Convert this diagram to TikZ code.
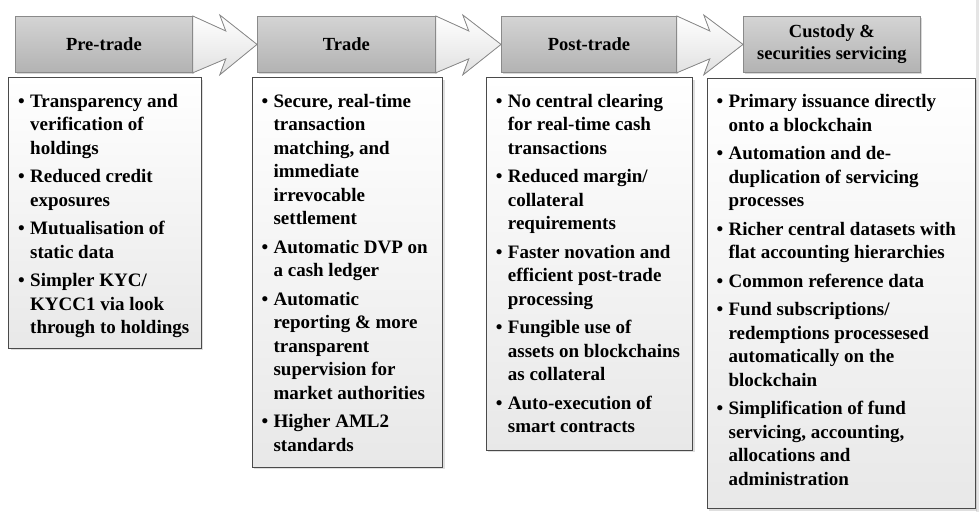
\documentclass[tikz,border=0pt]{standalone}
\usepackage{fontspec}
\setmainfont{Liberation Serif}
\usetikzlibrary{calc,shadows}

\definecolor{hdrline}{HTML}{8A8A8A}
\definecolor{bodyline}{HTML}{4A4A4A}

\newcommand{\bul}{\makebox[12pt][l]{\textbullet}}
\newcommand{\blist}[1]{\noindent\begin{tabular}[t]{@{}l@{}l@{}}#1\end{tabular}}
\newcommand{\bodytext}[3]{\parbox[c][#1][t]{#2}{\vspace*{13pt}\blist{#3}}}

\tikzset{
  hdr/.style={rectangle, draw=hdrline, line width=0.8pt, top color=black!17, bottom color=black!30,
    anchor=north west, inner sep=0pt, align=center, minimum height=56pt,
    font=\bfseries\fontsize{18.5}{22}\selectfont,
    drop shadow={shadow xshift=2pt, shadow yshift=-2pt, opacity=0.3}},
  body/.style={rectangle, draw=bodyline, line width=0.8pt, top color=white, bottom color=black!9,
    anchor=north west, inner xsep=9.5pt, inner ysep=0pt,
    font=\bfseries\fontsize{19}{23.5}\selectfont,
    drop shadow={shadow xshift=2pt, shadow yshift=-2pt, opacity=0.25}},
  chev/.style={draw=hdrline, line width=0.8pt, top color=white, bottom color=black!12, line join=miter}
}

\begin{document}
\begin{tikzpicture}[x=1pt,y=-1pt]
\useasboundingbox (0,0) rectangle (979,512);
\fill[white] (0,0) rectangle (979,512);
\fill[black!10] (976,0) rectangle (979,512);

% headers
\node[hdr, minimum width=177pt] (h1) at (15,16) {Pre-trade};
\node[hdr, minimum width=178pt] (h2) at (257,16) {Trade};
\node[hdr, minimum width=175pt] (h3) at (501,16) {Post-trade};
\node[hdr, minimum width=177pt] (h4) at (743,16) {Custody \&\\securities servicing};

% chevron arrows
\foreach \a/\b in {h1/h2, h2/h3, h3/h4}{
  \filldraw[chev] (\a.north east) -- ($(\a.north east)+(33,15)$) -- ($(\a.north east)+(27,-1)$)
    -- (\b.west) -- ($(\a.south east)+(27,2)$) -- ($(\a.south east)+(33,-14)$) -- (\a.south east) -- cycle;
}
% redraw header borders over arrow edge
\foreach \a in {h1,h2,h3}{
  \draw[hdrline, line width=0.8pt] (\a.north east) -- (\a.south east);
}

% body boxes
\node[body] (b1) at (8.3,77.3) {\bodytext{270.7pt}{173.4pt}{%
\bul & Transparency and\\
 & verification of\\
 & holdings\\[5pt]
\bul & Reduced credit\\
 & exposures\\[5pt]
\bul & Mutualisation of\\
 & static data\\[5pt]
\bul & Simpler KYC/\\
 & KYCC1 via look\\
 & through to holdings}};

\node[body] (b2) at (251.7,77.3) {\bodytext{389.4pt}{171.6pt}{%
\bul & Secure, real-time\\
 & transaction\\
 & matching, and\\
 & immediate\\
 & irrevocable\\
 & settlement\\[5pt]
\bul & Automatic DVP on\\
 & a cash ledger\\[5pt]
\bul & Automatic\\
 & reporting \& more\\
 & transparent\\
 & supervision for\\
 & market authorities\\[5pt]
\bul & Higher AML2\\
 & standards}};

\node[body] (b3) at (486,77.3) {\bodytext{372.7pt}{187.3pt}{%
\bul & No central clearing\\
 & for real-time cash\\
 & transactions\\[5pt]
\bul & Reduced margin/\\
 & collateral\\
 & requirements\\[5pt]
\bul & Faster novation and\\
 & efficient post-trade\\
 & processing\\[5pt]
\bul & Fungible use of\\
 & assets on blockchains\\
 & as collateral\\[5pt]
\bul & Auto-execution of\\
 & smart contracts}};

\node[body] (b4) at (706.7,78) {\bodytext{430.3pt}{249.3pt}{%
\bul & Primary issuance directly\\
 & onto a blockchain\\[5pt]
\bul & Automation and de-\\
 & duplication of servicing\\
 & processes\\[5pt]
\bul & Richer central datasets with\\
 & flat accounting hierarchies\\[5pt]
\bul & Common reference data\\[5pt]
\bul & Fund subscriptions/\\
 & redemptions processesed\\
 & automatically on the\\
 & blockchain\\[5pt]
\bul & Simplification of fund\\
 & servicing, accounting,\\
 & allocations and\\
 & administration}};
\end{tikzpicture}
\end{document}
